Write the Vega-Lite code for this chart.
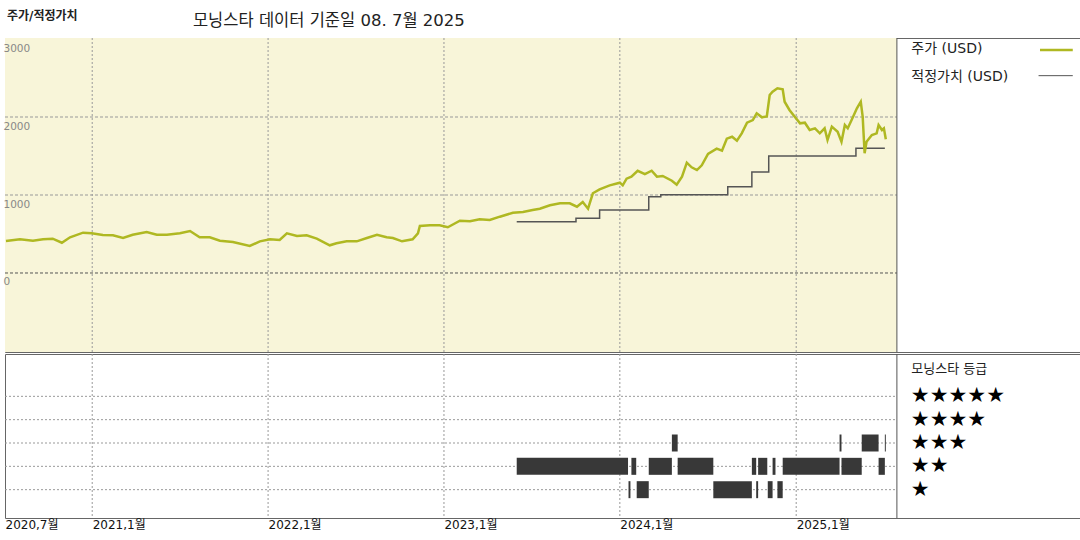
{
  "$schema": "https://vega.github.io/schema/vega-lite/v6.json",
  "padding": {"left": 0, "top": 9, "right": 0, "bottom": 0},
  "autosize": {"type": "pad"},
  "background": "white",
  "config": {"font": "DejaVu Sans, Noto Sans CJK KR", "view": {"stroke": "#666", "strokeWidth": 1}},
  "spacing": 0,
  "resolve": {"scale": {"x": "independent", "y": "independent"}},
  "datasets": {
    "price": [
      {"date": "2020-07-06", "price": 410}, {"date": "2020-08-04", "price": 432}, {"date": "2020-08-31", "price": 414},
      {"date": "2020-09-21", "price": 432}, {"date": "2020-10-11", "price": 440}, {"date": "2020-10-30", "price": 388},
      {"date": "2020-11-16", "price": 458}, {"date": "2020-12-13", "price": 517}, {"date": "2020-12-31", "price": 509},
      {"date": "2021-01-23", "price": 487}, {"date": "2021-02-13", "price": 483}, {"date": "2021-03-06", "price": 449},
      {"date": "2021-03-26", "price": 491}, {"date": "2021-04-24", "price": 526}, {"date": "2021-05-15", "price": 491},
      {"date": "2021-06-05", "price": 491}, {"date": "2021-07-02", "price": 509}, {"date": "2021-07-23", "price": 538},
      {"date": "2021-08-12", "price": 458}, {"date": "2021-09-02", "price": 458}, {"date": "2021-09-23", "price": 414},
      {"date": "2021-10-20", "price": 397}, {"date": "2021-11-24", "price": 346}, {"date": "2021-12-15", "price": 406},
      {"date": "2022-01-05", "price": 432}, {"date": "2022-01-25", "price": 423}, {"date": "2022-02-09", "price": 509},
      {"date": "2022-03-02", "price": 474}, {"date": "2022-03-22", "price": 483}, {"date": "2022-04-12", "price": 440},
      {"date": "2022-05-09", "price": 355}, {"date": "2022-05-23", "price": 381}, {"date": "2022-06-13", "price": 406},
      {"date": "2022-07-04", "price": 406}, {"date": "2022-07-25", "price": 449}, {"date": "2022-08-15", "price": 491},
      {"date": "2022-09-04", "price": 458}, {"date": "2022-09-17", "price": 449}, {"date": "2022-10-06", "price": 406},
      {"date": "2022-10-28", "price": 432}, {"date": "2022-11-08", "price": 509}, {"date": "2022-11-12", "price": 603},
      {"date": "2022-12-03", "price": 612}, {"date": "2022-12-23", "price": 612}, {"date": "2023-01-09", "price": 586},
      {"date": "2023-02-03", "price": 670}, {"date": "2023-02-24", "price": 663}, {"date": "2023-03-16", "price": 688},
      {"date": "2023-04-06", "price": 679}, {"date": "2023-04-27", "price": 722}, {"date": "2023-05-24", "price": 773},
      {"date": "2023-06-14", "price": 782}, {"date": "2023-07-04", "price": 808}, {"date": "2023-07-19", "price": 824},
      {"date": "2023-08-09", "price": 868}, {"date": "2023-08-30", "price": 894}, {"date": "2023-09-19", "price": 894},
      {"date": "2023-10-04", "price": 850}, {"date": "2023-10-16", "price": 910}, {"date": "2023-10-27", "price": 824},
      {"date": "2023-11-06", "price": 1022}, {"date": "2023-11-20", "price": 1073}, {"date": "2023-12-11", "price": 1124},
      {"date": "2024-01-01", "price": 1158}, {"date": "2024-01-07", "price": 1124}, {"date": "2024-01-15", "price": 1209},
      {"date": "2024-01-25", "price": 1235}, {"date": "2024-02-07", "price": 1311}, {"date": "2024-02-22", "price": 1269},
      {"date": "2024-03-07", "price": 1311}, {"date": "2024-03-18", "price": 1235}, {"date": "2024-03-30", "price": 1244},
      {"date": "2024-04-18", "price": 1183}, {"date": "2024-04-28", "price": 1132}, {"date": "2024-05-09", "price": 1235},
      {"date": "2024-05-19", "price": 1414}, {"date": "2024-05-29", "price": 1355}, {"date": "2024-06-09", "price": 1320},
      {"date": "2024-06-19", "price": 1381}, {"date": "2024-07-02", "price": 1526}, {"date": "2024-07-20", "price": 1594},
      {"date": "2024-07-31", "price": 1568}, {"date": "2024-08-10", "price": 1722}, {"date": "2024-08-21", "price": 1747},
      {"date": "2024-08-31", "price": 1696}, {"date": "2024-09-10", "price": 1791}, {"date": "2024-09-21", "price": 1927},
      {"date": "2024-10-03", "price": 1961}, {"date": "2024-10-11", "price": 2047}, {"date": "2024-10-22", "price": 1996},
      {"date": "2024-11-01", "price": 2006}, {"date": "2024-11-07", "price": 2282}, {"date": "2024-11-13", "price": 2324},
      {"date": "2024-11-23", "price": 2368}, {"date": "2024-12-04", "price": 2355}, {"date": "2024-12-08", "price": 2196},
      {"date": "2024-12-18", "price": 2090}, {"date": "2024-12-29", "price": 2004}, {"date": "2025-01-09", "price": 1919},
      {"date": "2025-01-19", "price": 1927}, {"date": "2025-01-29", "price": 1833}, {"date": "2025-02-09", "price": 1855},
      {"date": "2025-02-19", "price": 1791}, {"date": "2025-03-01", "price": 1855}, {"date": "2025-03-07", "price": 1705},
      {"date": "2025-03-16", "price": 1876}, {"date": "2025-03-28", "price": 1811}, {"date": "2025-04-05", "price": 1683},
      {"date": "2025-04-12", "price": 1897}, {"date": "2025-04-18", "price": 1855}, {"date": "2025-04-26", "price": 1961},
      {"date": "2025-05-07", "price": 2111}, {"date": "2025-05-15", "price": 2196}, {"date": "2025-05-19", "price": 2004},
      {"date": "2025-05-23", "price": 1535}, {"date": "2025-05-27", "price": 1683}, {"date": "2025-06-07", "price": 1769},
      {"date": "2025-06-17", "price": 1791}, {"date": "2025-06-21", "price": 1897}, {"date": "2025-06-28", "price": 1833},
      {"date": "2025-07-02", "price": 1855}, {"date": "2025-07-06", "price": 1714}
    ],
    "fair": [
      {"date": "2023-06-01", "fair": 658}, {"date": "2023-10-02", "fair": 701}, {"date": "2023-11-20", "fair": 808},
      {"date": "2024-03-01", "fair": 978}, {"date": "2024-03-26", "fair": 1004}, {"date": "2024-08-12", "fair": 1106},
      {"date": "2024-10-01", "fair": 1295}, {"date": "2024-11-05", "fair": 1500}, {"date": "2025-05-05", "fair": 1598},
      {"date": "2025-07-04", "fair": 1598}
    ],
    "ratings": [
      {"start": "2023-06-01", "end": "2024-01-18", "rating": 2},
      {"start": "2024-01-19", "end": "2024-01-23", "rating": 1},
      {"start": "2024-01-25", "end": "2024-02-04", "rating": 2},
      {"start": "2024-02-05", "end": "2024-03-01", "rating": 1},
      {"start": "2024-03-01", "end": "2024-04-18", "rating": 2},
      {"start": "2024-04-18", "end": "2024-04-30", "rating": 3},
      {"start": "2024-04-30", "end": "2024-07-13", "rating": 2},
      {"start": "2024-07-13", "end": "2024-10-01", "rating": 1},
      {"start": "2024-10-01", "end": "2024-10-10", "rating": 2},
      {"start": "2024-10-10", "end": "2024-10-14", "rating": 1},
      {"start": "2024-10-14", "end": "2024-11-02", "rating": 2},
      {"start": "2024-11-03", "end": "2024-11-13", "rating": 1},
      {"start": "2024-11-13", "end": "2024-11-19", "rating": 2},
      {"start": "2024-11-23", "end": "2024-12-04", "rating": 1},
      {"start": "2024-12-04", "end": "2025-04-01", "rating": 2},
      {"start": "2025-04-01", "end": "2025-04-05", "rating": 3},
      {"start": "2025-04-05", "end": "2025-05-17", "rating": 2},
      {"start": "2025-05-17", "end": "2025-06-21", "rating": 3},
      {"start": "2025-06-21", "end": "2025-07-04", "rating": 2},
      {"start": "2025-07-04", "end": "2025-07-06", "rating": 3}
    ],
    "stars": [
      {"rating": 5, "stars": "★★★★★"}, {"rating": 4, "stars": "★★★★"}, {"rating": 3, "stars": "★★★"},
      {"rating": 2, "stars": "★★"}, {"rating": 1, "stars": "★"}
    ],
    "years": [
      {"date": "2021-01-01"}, {"date": "2022-01-01"}, {"date": "2023-01-01"}, {"date": "2024-01-01"}, {"date": "2025-01-01"}
    ],
    "levels": [{"v": 1000}, {"v": 2000}]
  },
  "vconcat": [
    {
      "width": 1075,
      "height": 314,
      "data": {"values": [{}]},
      "layer": [
        {
          "mark": {"type": "rect", "fill": "#f8f5d9"},
          "encoding": {
            "x": {"datum": {"year": 2020, "month": 7, "date": 4, "utc": true}, "type": "temporal",
                  "scale": {"type": "utc", "domain": [{"year": 2020, "month": 7, "date": 4, "utc": true}, {"year": 2026, "month": 8, "date": 13, "utc": true}]},
                  "axis": null},
            "x2": {"datum": {"year": 2025, "month": 7, "date": 29, "utc": true}},
            "y": {"datum": -1013, "type": "quantitative",
                  "scale": {"domain": [-1013, 3013], "nice": false, "zero": false},
                  "axis": {"values": [0, 1000, 2000, 3000], "format": "d", "grid": false, "ticks": false, "domain": false,
                           "labelAlign": "left", "labelBaseline": "top", "labelPadding": 2, "labelOffset": 4,
                           "labelColor": "#888", "labelFontSize": 10.5, "title": null, "zindex": 1}},
            "y2": {"datum": 3013}
          }
        },
        {
          "data": {"name": "years"},
          "mark": {"type": "rule", "color": "#999", "strokeDash": [2, 2]},
          "encoding": {"x": {"field": "date", "type": "temporal"}}
        },
        {
          "data": {"name": "levels"},
          "mark": {"type": "rule", "color": "#999", "strokeDash": [3, 2]},
          "encoding": {
            "x": {"datum": {"year": 2020, "month": 7, "date": 4, "utc": true}, "type": "temporal"},
            "x2": {"datum": {"year": 2025, "month": 7, "date": 29, "utc": true}},
            "y": {"field": "v", "type": "quantitative"}
          }
        },
        {
          "mark": {"type": "rule", "color": "#555", "strokeDash": [3, 2]},
          "encoding": {
            "x": {"datum": {"year": 2020, "month": 7, "date": 4, "utc": true}, "type": "temporal"},
            "x2": {"datum": {"year": 2025, "month": 7, "date": 29, "utc": true}},
            "y": {"datum": 0, "type": "quantitative"}
          }
        },
        {
          "mark": {"type": "rule", "color": "#555"},
          "encoding": {"x": {"datum": {"year": 2025, "month": 7, "date": 29, "utc": true}, "type": "temporal"}}
        },
        {
          "data": {"name": "fair"},
          "mark": {"type": "line", "color": "#555", "strokeWidth": 1.5, "interpolate": "step-after"},
          "encoding": {
            "x": {"field": "date", "type": "temporal"},
            "y": {"field": "fair", "type": "quantitative"}
          }
        },
        {
          "data": {"name": "price"},
          "mark": {"type": "line", "color": "#afb822", "strokeWidth": 2.5},
          "encoding": {
            "x": {"field": "date", "type": "temporal"},
            "y": {"field": "price", "type": "quantitative"}
          }
        },
        {
          "mark": {"type": "text", "text": "주가/적정가치", "align": "left", "baseline": "middle", "fontSize": 12, "fontWeight": "bold", "dx": 2, "dy": -22, "color": "#222"},
          "encoding": {
            "x": {"datum": {"year": 2020, "month": 7, "date": 4, "utc": true}, "type": "temporal"},
            "y": {"datum": 3013, "type": "quantitative"}
          }
        },
        {
          "mark": {"type": "text", "text": "모닝스타 데이터 기준일 08. 7월 2025", "align": "left", "baseline": "middle", "fontSize": 16.5, "dy": -17, "color": "#222"},
          "encoding": {
            "x": {"datum": {"year": 2021, "month": 7, "date": 29, "utc": true}, "type": "temporal"},
            "y": {"datum": 3013, "type": "quantitative"}
          }
        },
        {
          "mark": {"type": "text", "text": "주가 (USD)", "align": "left", "baseline": "middle", "fontSize": 14, "color": "#222"},
          "encoding": {
            "x": {"datum": {"year": 2025, "month": 8, "date": 28, "utc": true}, "type": "temporal"},
            "y": {"datum": 2872, "type": "quantitative"}
          }
        },
        {
          "mark": {"type": "rule", "color": "#afb822", "strokeWidth": 2.5},
          "encoding": {
            "x": {"datum": {"year": 2026, "month": 5, "date": 22, "utc": true}, "type": "temporal"},
            "x2": {"datum": {"year": 2026, "month": 7, "date": 29, "utc": true}},
            "y": {"datum": 2860, "type": "quantitative"}
          }
        },
        {
          "mark": {"type": "text", "text": "적정가치 (USD)", "align": "left", "baseline": "middle", "fontSize": 14, "color": "#222"},
          "encoding": {
            "x": {"datum": {"year": 2025, "month": 8, "date": 28, "utc": true}, "type": "temporal"},
            "y": {"datum": 2515, "type": "quantitative"}
          }
        },
        {
          "mark": {"type": "rule", "color": "#555", "strokeWidth": 1},
          "encoding": {
            "x": {"datum": {"year": 2026, "month": 5, "date": 19, "utc": true}, "type": "temporal"},
            "x2": {"datum": {"year": 2026, "month": 7, "date": 29, "utc": true}},
            "y": {"datum": 2530, "type": "quantitative"}
          }
        }
      ]
    },
    {
      "width": 1075,
      "height": 164,
      "data": {"values": [{}]},
      "layer": [
        {
          "data": {"name": "years"},
          "mark": {"type": "rule", "color": "#999", "strokeDash": [2, 2]},
          "encoding": {
            "x": {"field": "date", "type": "temporal",
                  "scale": {"type": "utc", "domain": [{"year": 2020, "month": 7, "date": 4, "utc": true}, {"year": 2026, "month": 8, "date": 13, "utc": true}]},
                  "axis": {"values": [{"year": 2020, "month": 7, "date": 4, "utc": true}, {"year": 2021, "month": 1, "date": 1, "utc": true}, {"year": 2022, "month": 1, "date": 1, "utc": true}, {"year": 2023, "month": 1, "date": 1, "utc": true}, {"year": 2024, "month": 1, "date": 1, "utc": true}, {"year": 2025, "month": 1, "date": 1, "utc": true}],
                           "labelExpr": "utcFormat(datum.value, '%Y') + ',' + utcFormat(datum.value, '%-m') + '월'",
                           "labelAlign": "left", "labelBaseline": "top", "labelPadding": 1,
                           "labelFontSize": 12, "labelColor": "#111", "ticks": false, "domain": false, "grid": false, "title": null,
                           "labelFlush": false, "labelOverlap": false}}
          }
        },
        {
          "data": {"name": "stars"},
          "mark": {"type": "rule", "color": "#999", "strokeDash": [2, 2]},
          "encoding": {
            "x": {"datum": {"year": 2020, "month": 7, "date": 4, "utc": true}, "type": "temporal"},
            "x2": {"datum": {"year": 2025, "month": 7, "date": 29, "utc": true}},
            "y": {"field": "rating", "type": "quantitative", "scale": {"domain": [0, 6.6], "nice": false, "zero": false}, "axis": null}
          }
        },
        {
          "mark": {"type": "rule", "color": "#555"},
          "encoding": {"x": {"datum": {"year": 2025, "month": 7, "date": 29, "utc": true}, "type": "temporal"}}
        },
        {
          "data": {"name": "ratings"},
          "mark": {"type": "bar", "height": 17, "color": "#383838"},
          "encoding": {
            "x": {"field": "start", "type": "temporal"},
            "x2": {"field": "end"},
            "y": {"field": "rating", "type": "quantitative"}
          }
        },
        {
          "data": {"name": "stars"},
          "mark": {"type": "text", "align": "left", "baseline": "middle", "font": "DejaVu Sans", "fontSize": 21, "color": "#000"},
          "encoding": {
            "x": {"datum": {"year": 2025, "month": 8, "date": 27, "utc": true}, "type": "temporal"},
            "y": {"field": "rating", "type": "quantitative"},
            "text": {"field": "stars"}
          }
        },
        {
          "mark": {"type": "text", "text": "모닝스타 등급", "align": "left", "baseline": "middle", "fontSize": 13, "color": "#222"},
          "encoding": {
            "x": {"datum": {"year": 2025, "month": 8, "date": 28, "utc": true}, "type": "temporal"},
            "y": {"datum": 6.16, "type": "quantitative"}
          }
        }
      ]
    }
  ]
}
